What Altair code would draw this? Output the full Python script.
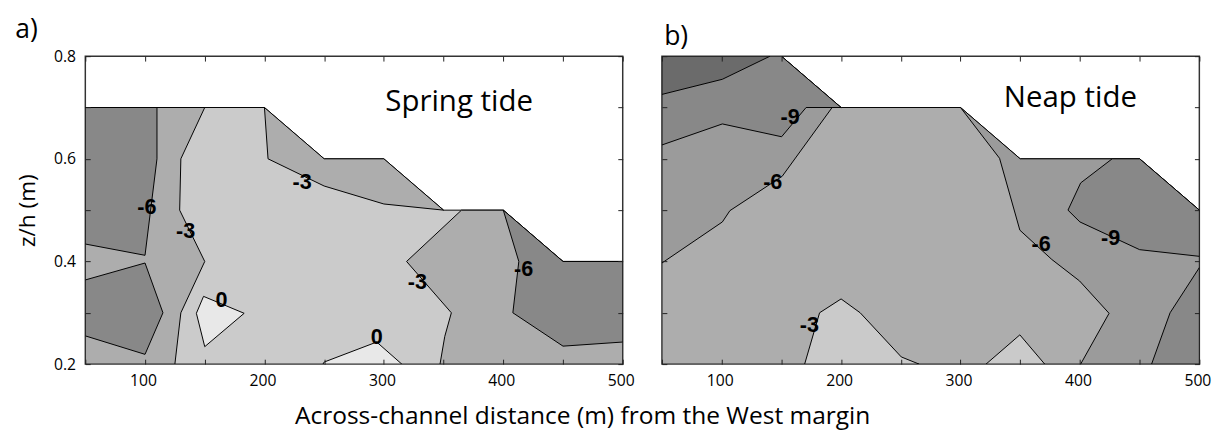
import altair as alt
import pandas as pd

# ---------------- data ----------------
X_TICKS = [50, 100, 150, 200, 250, 300, 350, 400, 450, 500]
Y_TICKS = [0.2, 0.3, 0.4, 0.5, 0.6, 0.7, 0.8]

# Spring tide (panel a) : data-domain outline and contour-band polygons
SPRING_DOMAIN_X = [50, 200, 250, 300, 350, 400, 450, 500, 500, 50]
SPRING_DOMAIN_Y = [0.7, 0.7, 0.6, 0.6, 0.5, 0.5, 0.4, 0.4, 0.2, 0.2]

SPRING_MID1_X = [50, 150, 130, 129, 150, 130, 125, 50]
SPRING_MID1_Y = [0.7, 0.7, 0.6, 0.5, 0.4, 0.3, 0.2, 0.2]
SPRING_MID2_X = [200, 250, 300, 350, 300, 250, 203]
SPRING_MID2_Y = [0.7, 0.6, 0.6, 0.5, 0.512, 0.547, 0.6]
SPRING_MID3_X = [365, 400, 450, 500, 500, 347, 351, 356.5, 319]
SPRING_MID3_Y = [0.5, 0.5, 0.4, 0.4, 0.2, 0.2, 0.254, 0.3, 0.4]

SPRING_DARK1_X = [50, 110, 110, 100, 50]
SPRING_DARK1_Y = [0.7, 0.7, 0.6, 0.412, 0.434]
SPRING_DARK2_X = [50, 100, 115, 100, 50]
SPRING_DARK2_Y = [0.364, 0.397, 0.3, 0.219, 0.255]
SPRING_DARK3_X = [400, 413, 408, 450, 500, 500, 450]
SPRING_DARK3_Y = [0.5, 0.4, 0.3, 0.235, 0.243, 0.4, 0.4]

SPRING_POS1_X = [149, 183, 150, 143]
SPRING_POS1_Y = [0.332, 0.299, 0.234, 0.299]
SPRING_POS2_X = [249, 250, 294, 315]
SPRING_POS2_Y = [0.2, 0.204, 0.243, 0.2]

SPRING_LABEL_TEXT = ["-6", "-3", "-3", "0", "0", "-3", "-6"]
SPRING_LABEL_X = [101.6, 134, 231.5, 164, 294, 328, 417]
SPRING_LABEL_Y = [0.506, 0.46, 0.554, 0.325, 0.252, 0.36, 0.386]

# Neap tide (panel b)
NEAP_DOMAIN_X = [50, 150, 200, 300, 350, 450, 500, 500, 50]
NEAP_DOMAIN_Y = [0.8, 0.8, 0.7, 0.7, 0.6, 0.6, 0.5, 0.2, 0.2]

NEAP_BAND1_X = [50, 150, 200, 192.5, 150.7, 106.9, 100.6, 50]
NEAP_BAND1_Y = [0.8, 0.8, 0.7, 0.7, 0.566, 0.499, 0.477, 0.397]
NEAP_BAND2_X = [300, 350, 450, 500, 500, 400.6, 424.4, 399.7, 376.4, 349.7, 332.7]
NEAP_BAND2_Y = [0.7, 0.6, 0.6, 0.5, 0.2, 0.2, 0.299, 0.362, 0.404, 0.461, 0.601]

NEAP_DARK1_X = [50, 150, 200, 170.7, 150.2, 100.6, 50]
NEAP_DARK1_Y = [0.8, 0.8, 0.7, 0.7, 0.643, 0.668, 0.627]
NEAP_DARK2_X = [427, 450, 500, 500, 450, 400, 390, 400.6]
NEAP_DARK2_Y = [0.6, 0.6, 0.5, 0.41, 0.423, 0.477, 0.5, 0.553]
NEAP_DARK3_X = [500, 475.5, 460, 500]
NEAP_DARK3_Y = [0.388, 0.3, 0.2, 0.2]

NEAP_DARKEST_X = [50, 140.5, 100.6, 50]
NEAP_DARKEST_Y = [0.8, 0.8, 0.755, 0.7255]

NEAP_LIGHT1_X = [169.5, 182, 200, 216, 250.4, 265.3]
NEAP_LIGHT1_Y = [0.2, 0.3, 0.327, 0.3, 0.214, 0.2]
NEAP_LIGHT2_X = [321.4, 349.7, 370.5]
NEAP_LIGHT2_Y = [0.2, 0.257, 0.2]

NEAP_LABEL_TEXT = ["-9", "-6", "-3", "-6", "-9"]
NEAP_LABEL_X = [157.3, 142.8, 173.5, 367.5, 425.7]
NEAP_LABEL_Y = [0.681, 0.554, 0.275, 0.434, 0.446]

PANEL_NAMES = ["Spring tide", "Neap tide"]
PANEL_NAME_X = [363, 392]
PANEL_NAME_Y = [0.71, 0.718]

X_TITLE = "Across-channel distance (m) from the West margin"
Y_TITLE = "z/h (m)"

# ---------------- helpers ----------------
W, H = 548, 314
FONT = "Open Sans"
xscale = alt.Scale(domain=[50, 500], nice=False, zero=False)
yscale = alt.Scale(domain=[0.2, 0.8], nice=False, zero=False)


def poly_frame(polys):
    rows = []
    for pid, (xs, ys) in enumerate(polys):
        n = len(xs)
        for i in range(n + 1):
            rows.append({"pid": pid, "i": i, "x": xs[i % n], "y": ys[i % n]})
    return pd.DataFrame(rows)


def fill_layer(polys, color):
    return alt.Chart(poly_frame(polys)).mark_line(
        fill=color, stroke="black", strokeWidth=1, clip=True
    ).encode(
        x=alt.X("x:Q", scale=xscale, axis=None),
        y=alt.Y("y:Q", scale=yscale, axis=None),
        detail="pid:N",
        order="i:Q",
    )


def axes_layer(show_y_labels):
    base = pd.DataFrame({"x": [50], "y": [0.2]})
    xa = alt.Axis(values=X_TICKS, labelExpr="datum.value % 100 == 0 ? datum.label : ''",
                  offset=-5, tickSize=5, domain=False, grid=False, title=None,
                  labelFontSize=16, labelFont=FONT, labelColor="black", tickColor="#222",
                  labelPadding=9, labelFlush=False, labelOffset=-2, zindex=2, orient="bottom",
                  minExtent=0)
    ya = alt.Axis(values=Y_TICKS, format=".1f",
                  labelExpr="round(datum.value*10) % 2 == 0 ? datum.label : ''",
                  offset=-5, tickSize=5, domain=False, grid=False,
                  title=Y_TITLE if show_y_labels else None,
                  titleFont=FONT, titleFontSize=23, titleFontWeight="normal", titleColor="black",
                  titlePadding=14, labels=show_y_labels,
                  labelFontSize=16, labelFont=FONT, labelColor="black", tickColor="#222",
                  labelPadding=10, zindex=2, orient="left", minExtent=0)
    return alt.Chart(base).mark_point(opacity=0).encode(
        x=alt.X("x:Q", scale=xscale, axis=xa),
        y=alt.Y("y:Q", scale=yscale, axis=ya),
    )


def axes_layer2():
    base = pd.DataFrame({"x": [50], "y": [0.2]})
    xa = alt.Axis(values=X_TICKS, offset=-5, tickSize=5, domain=False, grid=False, title=None,
                  labels=False, tickColor="#222", zindex=2, orient="top",
                  minExtent=0, maxExtent=0)
    ya = alt.Axis(values=Y_TICKS, offset=-5, tickSize=5, domain=False, grid=False, title=None,
                  labels=False, tickColor="#222", zindex=2, orient="right",
                  minExtent=0, maxExtent=0)
    return alt.Chart(base).mark_point(opacity=0).encode(
        x=alt.X("x:Q", scale=xscale, axis=xa),
        y=alt.Y("y:Q", scale=yscale, axis=ya),
    )


def label_layer(texts, xs, ys):
    df = pd.DataFrame({"t": texts, "x": xs, "y": ys})
    return alt.Chart(df).mark_text(font="Liberation Sans", fontWeight="bold", fontSize=22,
                                   color="black").encode(
        x=alt.X("x:Q", scale=xscale, axis=None),
        y=alt.Y("y:Q", scale=yscale, axis=None),
        text="t:N",
    )


def name_layer(i):
    df = pd.DataFrame({"t": [PANEL_NAMES[i]], "x": [PANEL_NAME_X[i]], "y": [PANEL_NAME_Y[i]]})
    return alt.Chart(df).mark_text(font=FONT, fontSize=30, color="black").encode(
        x=alt.X("x:Q", scale=xscale, axis=None),
        y=alt.Y("y:Q", scale=yscale, axis=None),
        text="t:N",
    )


def panel_title(txt, dx):
    return alt.Title(txt, anchor="start", fontSize=27, font=FONT, fontWeight="normal",
                     color="black", dx=dx, offset=5)


# ---------------- panel a ----------------
panel_a = alt.layer(
    fill_layer([(SPRING_DOMAIN_X, SPRING_DOMAIN_Y)], "#cbcbcb"),
    fill_layer([(SPRING_MID1_X, SPRING_MID1_Y), (SPRING_MID2_X, SPRING_MID2_Y),
                (SPRING_MID3_X, SPRING_MID3_Y)], "#adadad"),
    fill_layer([(SPRING_DARK1_X, SPRING_DARK1_Y), (SPRING_DARK2_X, SPRING_DARK2_Y),
                (SPRING_DARK3_X, SPRING_DARK3_Y)], "#888888"),
    fill_layer([(SPRING_POS1_X, SPRING_POS1_Y), (SPRING_POS2_X, SPRING_POS2_Y)], "#e8e8e8"),
    label_layer(SPRING_LABEL_TEXT, SPRING_LABEL_X, SPRING_LABEL_Y),
    name_layer(0),
    axes_layer(True),
    axes_layer2(),
).resolve_axis(x="independent", y="independent").properties(
    width=W, height=H, title=panel_title("a)", -2))

# ---------------- panel b ----------------
panel_b = alt.layer(
    fill_layer([(NEAP_DOMAIN_X, NEAP_DOMAIN_Y)], "#adadad"),
    fill_layer([(NEAP_BAND1_X, NEAP_BAND1_Y), (NEAP_BAND2_X, NEAP_BAND2_Y)], "#9b9b9b"),
    fill_layer([(NEAP_DARK1_X, NEAP_DARK1_Y), (NEAP_DARK2_X, NEAP_DARK2_Y),
                (NEAP_DARK3_X, NEAP_DARK3_Y)], "#888888"),
    fill_layer([(NEAP_DARKEST_X, NEAP_DARKEST_Y)], "#6b6b6b"),
    fill_layer([(NEAP_LIGHT1_X, NEAP_LIGHT1_Y), (NEAP_LIGHT2_X, NEAP_LIGHT2_Y)], "#cacaca"),
    label_layer(NEAP_LABEL_TEXT, NEAP_LABEL_X, NEAP_LABEL_Y),
    name_layer(1),
    axes_layer(False),
    axes_layer2(),
).resolve_axis(x="independent", y="independent").properties(
    width=W, height=H, title=panel_title("b)", 5))

chart = alt.hconcat(panel_a, panel_b, spacing=23).properties(
    title=alt.Title(X_TITLE, orient="bottom", anchor="middle", fontSize=25, font=FONT,
                    fontWeight="normal", color="black", dx=-31, offset=15),
    padding={"left": 14, "top": 11, "right": 5, "bottom": 2},
    background="white",
).configure_view(stroke="#333333", strokeWidth=1.5)

chart.save("out.html", embed_options={"renderer": "svg", "actions": False})
